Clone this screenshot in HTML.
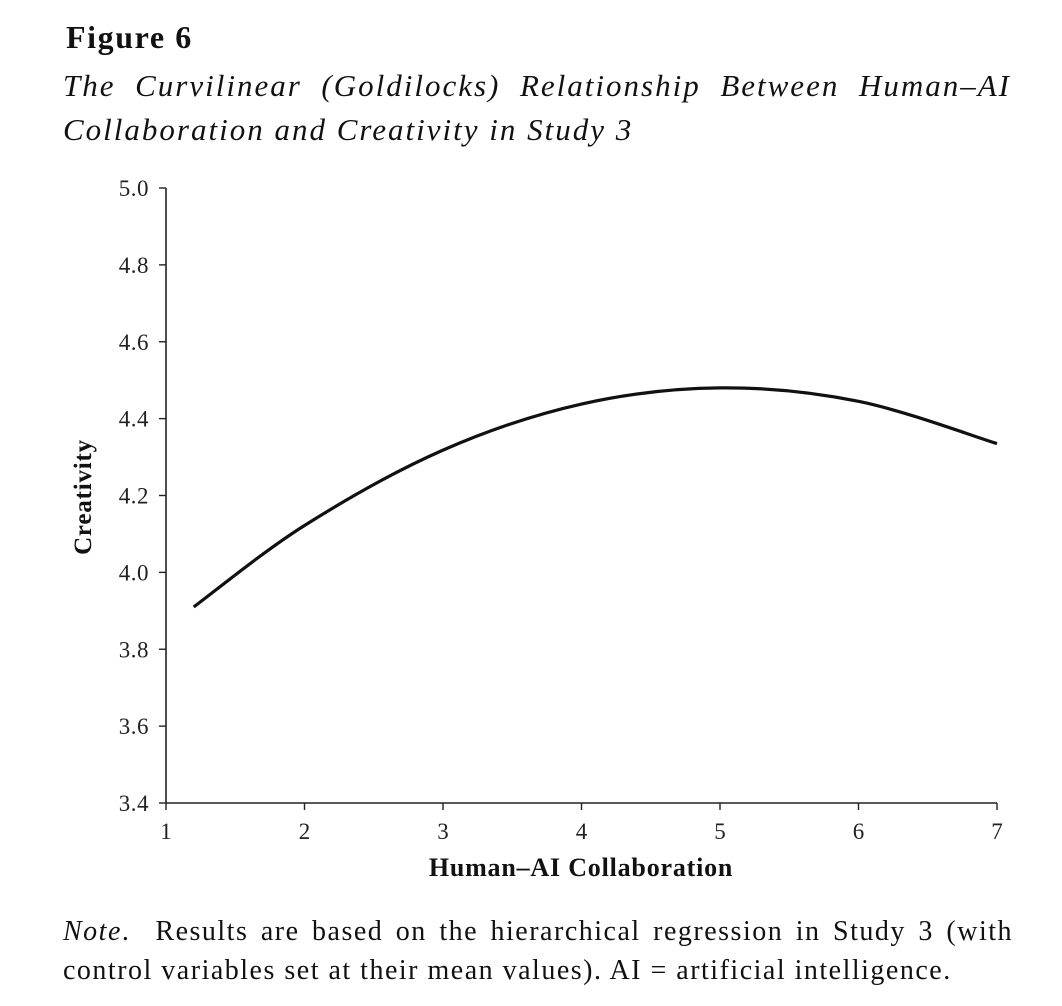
<!DOCTYPE html>
<html><head><meta charset="utf-8"><style>
body{margin:0;background:#fff;width:1062px;height:1006px;overflow:hidden;font-family:"Liberation Serif",serif;color:#111}
#fig{position:absolute;left:66px;top:19px;font-weight:bold;font-size:32px;letter-spacing:1.6px}
#title{position:absolute;left:63px;top:64px;width:948px;font-style:italic;font-size:31px;line-height:44px;text-align:justify;text-align-last:left;letter-spacing:2.0px}
#note{position:absolute;left:63px;top:912px;width:950px;font-size:28px;line-height:39px;text-align:justify;letter-spacing:1.5px}
svg{position:absolute;left:0;top:0}
</style></head><body>
<div id="fig">Figure 6</div>
<div id="title">The Curvilinear (Goldilocks) Relationship Between Human–AI Collaboration and Creativity in Study 3</div>
<svg width="1062" height="1006" id="chart"></svg>
<div id="note"><i>Note</i>.&nbsp; Results are based on the hierarchical regression in Study 3 (with control variables set at their mean values). AI = artificial intelligence.</div>
<script>
const xVals=[1.2,2,3,4,5,6,7];
const yVals=[3.91,4.122,4.318,4.438,4.48,4.445,4.335];
const xTicks=[1,2,3,4,5,6,7];
const yTicks=["3.4","3.6","3.8","4.0","4.2","4.4","4.6","4.8","5.0"];
const svg=document.getElementById('chart');
const NS='http://www.w3.org/2000/svg';
const X=v=>166+(v-1)*(997-166)/6;
const Y=v=>803-(v-3.4)*(803-188)/1.6;
function el(t,a){const e=document.createElementNS(NS,t);for(const k in a)e.setAttribute(k,a[k]);svg.appendChild(e);return e;}
let e=el('line',{x1:166,y1:188,x2:166,y2:803,stroke:'#222','stroke-width':1.6});


e=el('line',{x1:166,y1:803,x2:997,y2:803,stroke:'#222','stroke-width':1.6});


yTicks.forEach(t=>{const y=Y(parseFloat(t));
 let l=el('line',{x1:159,y1:y,x2:166,y2:y,stroke:'#222','stroke-width':1.4});
 
 
 let tx=el('text',{x:149,y:y+8,'text-anchor':'end','font-size':23,'letter-spacing':0.5,'font-family':'Liberation Serif, serif',fill:'#222'});
 tx.textContent=t;
 
 
});
xTicks.forEach(t=>{const x=X(t);
 let l=el('line',{x1:x,y1:803,x2:x,y2:810,stroke:'#222','stroke-width':1.4});
 
 
 let tx=el('text',{x:x,y:839,'text-anchor':'middle','font-size':23,'font-family':'Liberation Serif, serif',fill:'#222'});
 tx.textContent=t;
 
 
});
let xt=el('text',{x:581,y:876,'text-anchor':'middle','font-size':26,'letter-spacing':0.8,'font-weight':'bold','font-family':'Liberation Serif, serif',fill:'#111'});
xt.textContent='Human–AI Collaboration';


let yt=el('text',{x:0,y:0,'text-anchor':'middle','font-size':25,'letter-spacing':0.8,'font-weight':'bold','font-family':'Liberation Serif, serif',fill:'#111',transform:'translate(91,497) rotate(-90)'});
yt.textContent='Creativity';


const P=xVals.map((v,i)=>[X(v),Y(yVals[i])]);
let d='M'+P[0][0]+','+P[0][1];
for(let i=0;i<P.length-1;i++){const p0=P[Math.max(i-1,0)],p1=P[i],p2=P[i+1],p3=P[Math.min(i+2,P.length-1)];
 d+=' C'+(p1[0]+(p2[0]-p0[0])/6)+','+(p1[1]+(p2[1]-p0[1])/6)+' '+(p2[0]-(p3[0]-p1[0])/6)+','+(p2[1]-(p3[1]-p1[1])/6)+' '+p2[0]+','+p2[1];}
let c=el('path',{d:d,fill:'none',stroke:'#111','stroke-width':3.2});


</script>
</body></html>
